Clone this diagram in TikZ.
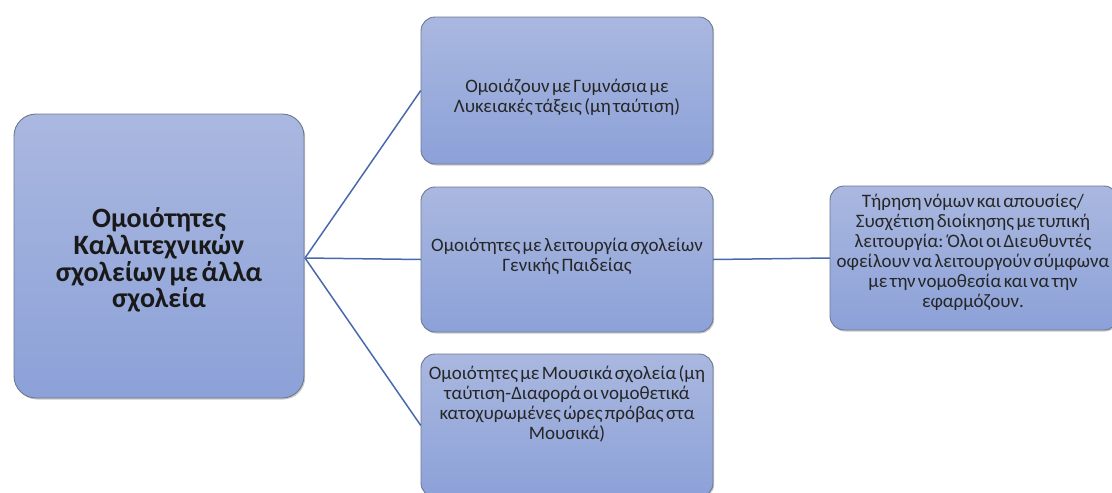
\documentclass[tikz,border=0pt]{standalone}
\usepackage{fontspec}
\setmainfont{Carlito}[WordSpace=0.55]
\usetikzlibrary{shadows}
\definecolor{boxtop}{HTML}{AAB8E0}
\definecolor{boxbot}{HTML}{8CA1D8}
\definecolor{boxline}{HTML}{6C7892}
\definecolor{linkcol}{HTML}{4A69AD}
\begin{document}
\begin{tikzpicture}[x=1pt,y=-1pt,
  card/.style={draw=boxline,line width=0.9pt,top color=boxtop,bottom color=boxbot,
    drop shadow={shadow xshift=1.2pt,shadow yshift=-1.5pt,opacity=0.35,fill=black!60}},
  label/.style={align=center,font=\fontsize{19}{20}\selectfont,text=black!85},
  link/.style={draw=linkcol,line width=1.5pt}]
\useasboundingbox (0,0) rectangle (1112,493);
% boxes
\path[card,rounded corners=22pt] (14,114) rectangle (304,398);
\path[card,rounded corners=14pt] (421,17) rectangle (713,164);
\path[card,rounded corners=14pt] (421,187) rectangle (713,332);
\path[card,rounded corners=14pt] (421,354) rectangle (713,497);
\path[card,rounded corners=14pt] (830,186) rectangle (1118,330);
% anchors for the connectors
\node[inner sep=0,minimum width=290pt,minimum height=284pt] (main) at (159,256) {};
\node[inner sep=0,minimum width=292pt,minimum height=147pt] (b1) at (567,90.5) {};
\node[inner sep=0,minimum width=292pt,minimum height=145pt] (b2) at (567,259.5) {};
\node[inner sep=0,minimum width=292pt,minimum height=145pt] (b3) at (567,425.5) {};
\node[inner sep=0,minimum width=288pt,minimum height=144pt] (b4) at (974,258) {};
% texts
\node[align=center,font=\fontsize{28}{26.7}\selectfont\bfseries,text=black!90] (maintext) at (159,260)
  {Ομοιότητες\\Καλλιτεχνικών\\σχολείων με άλλα\\σχολεία};
\node[label] (t1) at (567,97) {Ομοιάζουν με Γυμνάσια με\\Λυκειακές τάξεις (μη ταύτιση)};
\node[label] (t2) at (567,256) {Ομοιότητες με λειτουργία σχολείων\\Γενικής Παιδείας};
\node[label] (t3) at (567,404) {Ομοιότητες με Μουσικά σχολεία (μη\\ταύτιση-Διαφορά οι νομοθετικά\\κατοχυρωμένες ώρες πρόβας στα\\Μουσικά)};
\node[label] (t4) at (973,252) {Τήρηση νόμων και απουσίες/\\Συσχέτιση διοίκησης με τυπική\\λειτουργία: Όλοι οι Διευθυντές\\οφείλουν να λειτουργούν σύμφωνα\\με την νομοθεσία και να την\\εφαρμόζουν.};
% connectors
\coordinate (hub) at (305,258);
\draw[link] (hub) -- (b1.west);
\draw[link] (hub) -- (b2.west);
\draw[link] (hub) -- (b3.west);
\draw[link] (b2.east) -- (b4.west);
\end{tikzpicture}
\end{document}
